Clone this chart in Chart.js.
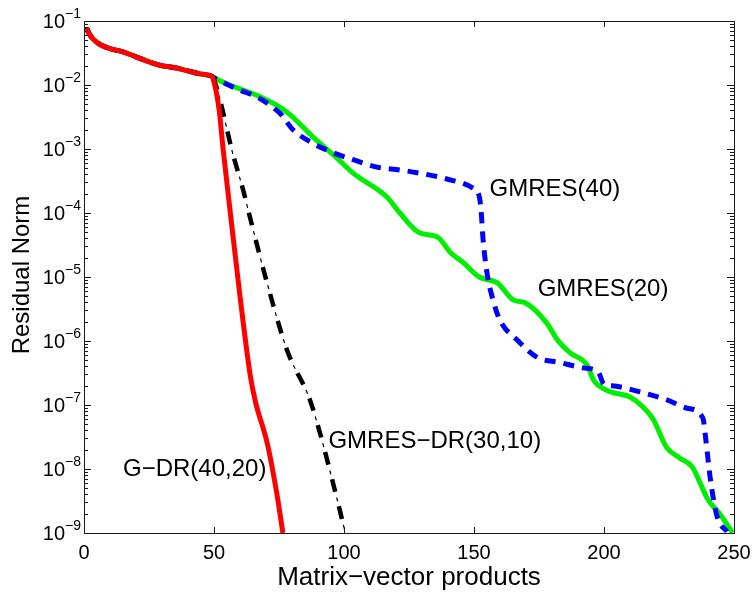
<!DOCTYPE html>
<html>
<head>
<meta charset="utf-8">
<script src="https://cdn.jsdelivr.net/npm/chart.js@4/dist/chart.umd.min.js"></script>
<style>
  body { margin: 0; background: white; }
  #wrap { width: 754px; height: 594px; }
</style>
</head>
<body>
<div id="wrap"><canvas id="conv" width="754" height="594"></canvas></div>
<script>
// shared start of all four runs (matvecs, residual norm)
const startX = [1, 2, 5, 10, 15, 20, 25, 30, 35, 40, 45, 49];
const startY = [7.8e-2, 6.3e-2, 4.6e-2, 3.7e-2, 3.3e-2, 2.75e-2, 2.3e-2, 2.0e-2, 1.86e-2, 1.66e-2, 1.48e-2, 1.38e-2];

const gdrX = [50, 52, 53.5, 56, 60, 64, 66, 70.5, 74, 76.5];
const gdrY = [1.12e-2, 4e-3, 1e-3, 1.26e-4, 5e-6, 2.8e-7, 1.1e-7, 2.5e-8, 4.5e-9, 1e-9];

const drX = [50, 52.3, 56.9, 61.2, 63.8, 70.4, 78.1, 86.9, 90.8, 95.8, 100.4];
const drY = [1.2e-2, 5.9e-3, 9.5e-4, 2.3e-4, 8.7e-5, 8.1e-6, 7.2e-7, 1.2e-7, 3.6e-8, 6.0e-9, 1.05e-9];

const g20X = [50, 56, 66.5, 78, 88, 97, 103.5, 116.5, 121.5, 129, 136, 141, 146, 152, 159, 165, 170, 178, 182, 187, 193.5, 196, 201, 210, 215, 219, 224, 229, 234, 237, 240, 244.5, 249.5];
const g20Y = [1.3e-2, 1.0e-2, 6.9e-3, 3.8e-3, 1.55e-3, 7.4e-4, 4.2e-4, 1.78e-4, 1.0e-4, 4.9e-5, 4.2e-5, 2.4e-5, 1.66e-5, 1.0e-5, 8.1e-6, 4.4e-6, 3.9e-6, 1.9e-6, 1.05e-6, 6.5e-7, 4.2e-7, 2.45e-7, 1.7e-7, 1.33e-7, 9.3e-8, 5.9e-8, 2.2e-8, 1.5e-8, 1.07e-8, 6.0e-9, 3.3e-9, 2.0e-9, 1.0e-9];

const g40X = [50, 60, 66.5, 75.4, 80.4, 88, 96, 103.5, 112.7, 121.5, 130.4, 139.6, 149.6, 151.9, 152.7, 153.5, 155, 157.3, 160, 166.5, 174.2, 183, 192, 197.7, 200, 203, 213.8, 224.2, 232, 238, 239.2, 240.8, 243.5, 247.3];
const g40Y = [1.3e-2, 8.3e-3, 6.5e-3, 3.6e-3, 2.0e-3, 1.23e-3, 8.7e-4, 6.8e-4, 5.2e-4, 4.7e-4, 4.1e-4, 3.4e-4, 2.45e-4, 1.9e-4, 1.12e-4, 3.8e-5, 1.15e-5, 4.4e-6, 2.1e-6, 1.05e-6, 5.6e-7, 4.6e-7, 3.8e-7, 3.3e-7, 2.1e-7, 2.0e-7, 1.6e-7, 1.2e-7, 8.9e-8, 6.3e-8, 2.8e-8, 7.5e-9, 1.8e-9, 1.05e-9];

const xTicks = [0, 50, 100, 150, 200, 250];
const yExps = [-1, -2, -3, -4, -5, -6, -7, -8, -9];

// curve labels: text, anchor in data coords
const curveLabels = [
  { text: 'GMRES(40)', x: 156, y: 2.3e-4 },
  { text: 'GMRES(20)', x: 174.5, y: 6.3e-6 },
  { text: 'GMRES\u2212DR(30,10)', x: 94, y: 2.7e-8 },
  { text: 'G\u2212DR(40,20)', x: 15, y: 9.8e-9 }
];

function pts(xs, ys) {
  const all = startX.concat(xs);
  const vals = startY.concat(ys);
  return all.map((x, i) => ({ x: x, y: vals[i] }));
}

const drPts = pts(drX, drY);

const frame = {
  id: 'frame',
  afterDraw(chart) {
    const { ctx, chartArea: a } = chart;
    const xs = chart.scales.x, ys = chart.scales.y;
    ctx.save();
    ctx.strokeStyle = '#1a1a1a';
    ctx.lineWidth = 1;
    ctx.strokeRect(a.left + 0.5, a.top + 0.5, a.right - a.left, a.bottom - a.top);
    ctx.beginPath();
    xTicks.forEach(v => {
      const px = Math.round(xs.getPixelForValue(v)) + 0.5;
      ctx.moveTo(px, a.bottom); ctx.lineTo(px, a.bottom - 6);
      ctx.moveTo(px, a.top); ctx.lineTo(px, a.top + 6);
    });
    for (let e = -9; e <= -1; e++) {
      for (let m = 1; m <= 9; m++) {
        if (e === -1 && m > 1) break;
        const py = Math.round(ys.getPixelForValue(m * Math.pow(10, e))) + 0.5;
        const len = m === 1 ? 7 : 4;
        ctx.moveTo(a.left, py); ctx.lineTo(a.left + len, py);
        ctx.moveTo(a.right, py); ctx.lineTo(a.right - len, py);
      }
    }
    ctx.stroke();

    ctx.fillStyle = '#000';
    ctx.font = '20px "Liberation Sans", Arial, sans-serif';
    ctx.textAlign = 'center';
    ctx.textBaseline = 'middle';
    xTicks.forEach(v => ctx.fillText(String(v), xs.getPixelForValue(v), a.bottom + 20));

    yExps.forEach(e => {
      const py = ys.getPixelForValue(Math.pow(10, e));
      ctx.font = '14px "Liberation Sans", Arial, sans-serif';
      ctx.textAlign = 'right';
      const ex = '\u2212' + Math.abs(e);
      ctx.fillText(ex, a.left - 3, py - 7);
      const w = ctx.measureText(ex).width;
      ctx.font = '20px "Liberation Sans", Arial, sans-serif';
      ctx.fillText('10', a.left - 3 - w, py + 1);
    });

    ctx.font = '26px "Liberation Sans", Arial, sans-serif';
    ctx.textAlign = 'center';
    ctx.fillText('Matrix\u2212vector products', (a.left + a.right) / 2, a.bottom + 45);
    ctx.save();
    ctx.font = '24px "Liberation Sans", Arial, sans-serif';
    ctx.translate(22, (a.top + a.bottom) / 2 - 2);
    ctx.rotate(-Math.PI / 2);
    ctx.fillText('Residual Norm', 0, 0);
    ctx.restore();

    ctx.font = '24px "Liberation Sans", Arial, sans-serif';
    ctx.textAlign = 'left';
    curveLabels.forEach(l => ctx.fillText(l.text, xs.getPixelForValue(l.x), ys.getPixelForValue(l.y)));
    ctx.restore();
  }
};

new Chart(document.getElementById('conv'), {
  type: 'line',
  data: {
    datasets: [
      { label: 'G-DR(40,20)', data: pts(gdrX, gdrY), borderColor: '#ff0000', borderWidth: 5 },
      { label: 'GMRES-DR(30,10)', data: drPts, borderColor: '#000', borderWidth: 4.5, borderDash: [13, 15] },
      { label: 'dots', data: drPts, borderColor: '#000', borderWidth: 1.2, borderDash: [4, 24], borderDashOffset: 9 },
      { label: 'GMRES(40)', data: pts(g40X, g40Y), borderColor: '#0000ff', borderWidth: 5, borderDash: [11, 8] },
      { label: 'GMRES(20)', data: pts(g20X, g20Y), borderColor: '#00ee00', borderWidth: 5 }
    ]
  },
  options: {
    responsive: false,
    animation: false,
    parsing: true,
    elements: { point: { radius: 0 }, line: { cubicInterpolationMode: 'monotone', borderCapStyle: 'butt', borderJoinStyle: 'round', fill: false } },
    layout: { padding: { left: 84, top: 21, right: 20, bottom: 61 } },
    plugins: { legend: { display: false }, tooltip: { enabled: false } },
    scales: {
      x: { type: 'linear', min: 0, max: 250, display: false },
      y: { type: 'logarithmic', min: 1e-9, max: 1e-1, display: false }
    }
  },
  plugins: [frame]
});
</script>
</body>
</html>
